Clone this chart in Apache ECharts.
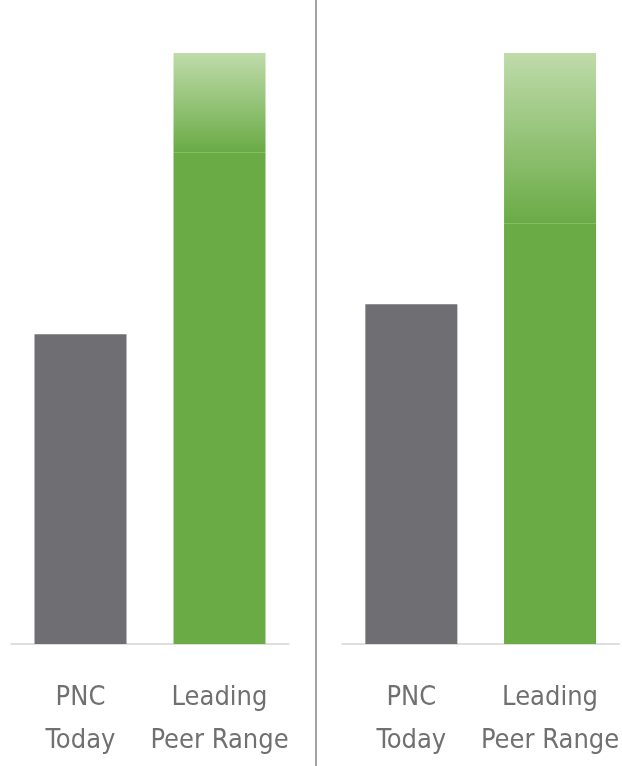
<!DOCTYPE html>
<html>
<head>
<meta charset="utf-8">
<script src="https://cdn.jsdelivr.net/npm/echarts@6/dist/echarts.min.js"></script>
<style>
html,body{margin:0;padding:0;background:#fff;}
#chart{width:622px;height:766px;}
</style>
</head>
<body>
<div id="chart"></div>
<script>
// Data (values as % of leading peer range top)
const categories = ['PNC\nToday', 'Leading\nPeer Range'];
const pncToday = [52.4, 57.5];          // left panel, right panel
const peerRangeLow = [83.2, 71.2];      // solid green up to range low
const peerRangeHigh = [100, 100];       // top of range

const chart = echarts.init(document.getElementById('chart'));

const FONT = '"Liberation Sans Narrow", "DejaVu Sans Condensed", "Roboto Condensed", sans-serif';
const GRAY = '#6e6e73';
const GREEN = '#6aab46';
const LIGHT = '#bfdbaa';

function panelGrid(left) {
  return { left: left, width: 278, top: 53, bottom: 122, containLabel: false };
}

const grids = [panelGrid(11), panelGrid(342)];
const xAxes = grids.map((g, i) => ({
  type: 'category', gridIndex: i, data: categories,
  axisTick: { show: false },
  axisLine: { lineStyle: { color: '#d4d4d4', width: 1.5 } },
  axisLabel: {
    interval: 0, hideOverlap: false,
    color: '#707070', fontFamily: FONT, fontSize: 27, lineHeight: 43, margin: 32
  }
}));
const yAxes = grids.map((g, i) => ({
  type: 'value', gridIndex: i, min: 0, max: 100, show: false,
  splitLine: { show: false }
}));

const series = [];
[0, 1].forEach(p => {
  series.push({
    type: 'bar', xAxisIndex: p, yAxisIndex: p, stack: 's' + p, barWidth: 92,
    data: [
      { value: pncToday[p], itemStyle: { color: GRAY } },
      { value: peerRangeLow[p], itemStyle: { color: GREEN } }
    ],
    silent: true
  });
  series.push({
    type: 'bar', xAxisIndex: p, yAxisIndex: p, stack: 's' + p, barWidth: 92,
    data: [
      { value: '-' },
      {
        value: peerRangeHigh[p] - peerRangeLow[p],
        itemStyle: {
          color: new echarts.graphic.LinearGradient(0, 0, 0, 1, [
            { offset: 0, color: LIGHT },
            { offset: 1, color: GREEN }
          ])
        }
      }
    ],
    silent: true
  });
});

chart.setOption({
  animation: false,
  backgroundColor: '#ffffff',
  grid: grids,
  xAxis: xAxes,
  yAxis: yAxes,
  series: series,
  graphic: [{
    type: 'line', shape: { x1: 316, y1: 0, x2: 316, y2: 766 },
    style: { stroke: '#a3a3a3', lineWidth: 2 }
  }]
});
</script>
</body>
</html>
